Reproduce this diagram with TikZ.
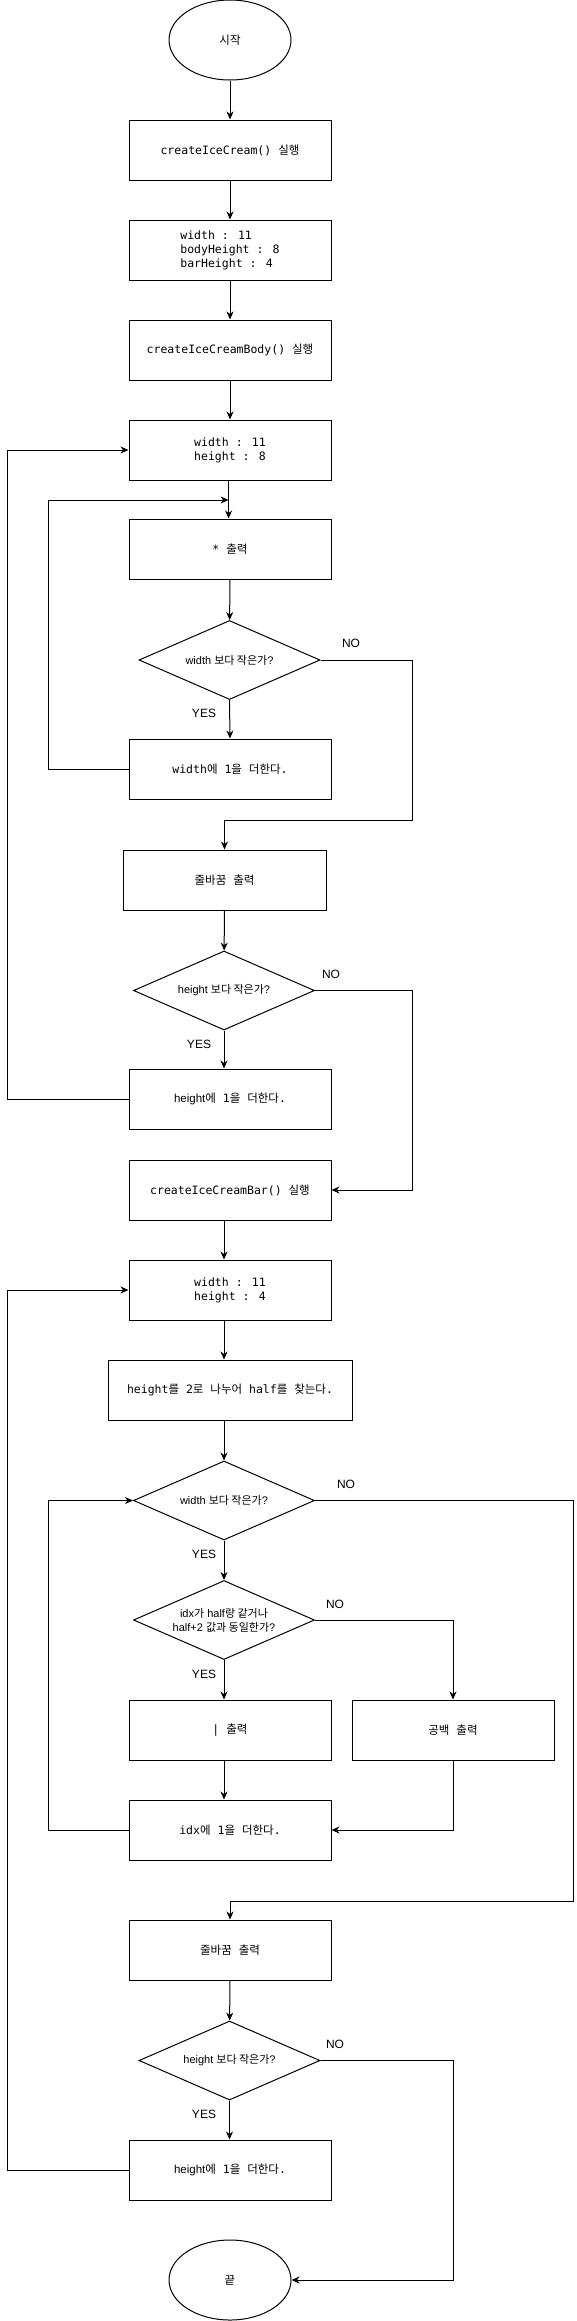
\documentclass[tikz,border=0pt]{standalone}
\usepackage{fontspec}
\setmainfont{Liberation Sans}
\newfontfamily\krfont{Noto Sans CJK KR}
\newfontfamily\monofont{DejaVu Sans Mono}
\newcommand\krtxt[1]{{\krfont #1}}
\usetikzlibrary{shapes.geometric,arrows.meta}
\begin{document}
\begin{tikzpicture}[x=1pt,y=-1pt,line width=1pt,
  stepbox/.style={draw,rectangle,minimum width=202pt,minimum height=60pt,inner sep=0pt,
    font=\monofont\fontsize{11.5}{14}\selectfont},
  term/.style={draw,ellipse,minimum width=122pt,minimum height=80pt,inner sep=0pt,
    font=\fontsize{11.5}{14}\selectfont},
  decide/.style={draw,diamond,aspect=2.3,minimum width=181pt,minimum height=79pt,inner sep=0pt,
    font=\fontsize{11}{14}\selectfont,align=center},
  lbl/.style={font=\fontsize{12}{14}\selectfont,inner sep=0pt},
  arr/.style={-{Stealth[length=8pt,width=7pt,inset=2.5pt]}}]
\useasboundingbox (0,0) rectangle (576,2321);

% nodes
\node[term] (start) at (230,40) {\krtxt{시작}};
\node[stepbox] (b1) at (230,150) {createIceCream() \krtxt{실행}};
\node[stepbox,align=left] (b2) at (230,250) {width : 11\\bodyHeight : 8\\barHeight : 4};
\node[stepbox] (b3) at (230,350) {createIceCreamBody() \krtxt{실행}};
\node[stepbox,align=center] (b4) at (230,450) {width : 11\\height : 8};
\node[stepbox] (b5) at (230,549) {* \krtxt{출력}};
\node[decide] (d1) at (229.5,660) {width \krtxt{보다 작은가}?};
\node[stepbox] (b6) at (230,769) {width\krtxt{에} 1\krtxt{을} \krtxt{더한다}.};
\node[stepbox,minimum width=203pt] (b7) at (224.5,880) {\krtxt{줄바꿈} \krtxt{출력}};
\node[decide] (d2) at (224,990.5) {height \krtxt{보다 작은가}?};
\node[stepbox] (b8) at (230,1099) {{\rmfamily height}\krtxt{에} 1\krtxt{을} \krtxt{더한다}.};
\node[stepbox] (b9) at (230,1190) {createIceCreamBar() \krtxt{실행}};
\node[stepbox,align=center] (b10) at (230,1290) {width : 11\\height : 4};
\node[stepbox,minimum width=244pt] (b11) at (230,1390) {height\krtxt{를} 2\krtxt{로} \krtxt{나누어} half\krtxt{를} \krtxt{찾는다}.};
\node[decide] (d3) at (224,1500.5) {width \krtxt{보다 작은가}?};
\node[decide] (d4) at (224,1620) {idx\krtxt{가} half\krtxt{랑 같거나}\\half+2 \krtxt{값과 동일한가}?};
\node[stepbox] (b12) at (230,1730) {| \krtxt{출력}};
\node[stepbox] (b13) at (453,1730) {\krtxt{공백} \krtxt{출력}};
\node[stepbox] (b14) at (230,1830) {idx\krtxt{에} 1\krtxt{을} \krtxt{더한다}.};
\node[stepbox] (b15) at (230,1950) {\krtxt{줄바꿈} \krtxt{출력}};
\node[decide] (d5) at (229.5,2060.5) {height \krtxt{보다 작은가}?};
\node[stepbox] (b16) at (230,2170) {{\rmfamily height}\krtxt{에} 1\krtxt{을} \krtxt{더한다}.};
\node[term] (end) at (230,2280) {\krtxt{끝}};

% labels
\node[lbl] (no1) at (351,643) {NO};
\node[lbl] (yes1) at (204,713) {YES};
\node[lbl] (no2) at (331,974) {NO};
\node[lbl] (yes2) at (199,1044) {YES};
\node[lbl] (no3) at (346,1484) {NO};
\node[lbl] (yes3) at (204,1554) {YES};
\node[lbl] (no4) at (335,1604) {NO};
\node[lbl] (yes4) at (204,1674) {YES};
\node[lbl] (no5) at (335,2044) {NO};
\node[lbl] (yes5) at (204,2114) {YES};

% helper coordinates
\coordinate (m1) at (228.6,500);
\coordinate (l1) at (48,769);
\coordinate (c1) at (412,820);
\coordinate (c2) at (412,1190);
\coordinate (o1) at (7,1099);
\coordinate (c3) at (573,1901);
\coordinate (l2) at (48,1830);
\coordinate (c4) at (453,2280);
\coordinate (o2) at (7,2170);

% connectors
\draw[arr] (start) -- (b1);
\draw[arr] (b1) -- (b2);
\draw[arr] (b2) -- (b3);
\draw[arr] (b3) -- (b4);
\draw[arr] (b4.south -| m1) -- (b5.north -| m1);
\draw[arr] (b6.west) -- (l1) |- (m1);
\draw[arr] (b5) -- (d1);
\draw[arr] (d1.south) -- (b6.north);
\draw[arr] (d1.east) -| (c1) -| (b7.north);
\draw[arr] (b7) -- (d2);
\draw[arr] (d2.south) -- (b8.north -| d2.south);
\draw[arr] (d2.east) -| (c2) -- (b9.east);
\draw[arr] (b8.west) -- (o1) |- (b4.west);
\draw[arr] (b9.south -| d3.north) -- (b10.north -| d3.north);
\draw[arr] (b10.south -| d3.north) -- (b11.north -| d3.north);
\draw[arr] (b11.south -| d3.north) -- (d3.north);
\draw[arr] (d3.south) -- (d4.north);
\draw[arr] (d3.east) -| (c3) -| (b15.north);
\draw[arr] (d4.south) -- (b12.north -| d4.south);
\draw[arr] (d4.east) -| (b13.north);
\draw[arr] (b12.south -| d4.south) -- (b14.north -| d4.south);
\draw[arr] (b13.south) |- (b14.east);
\draw[arr] (b14.west) -- (l2) |- (d3.west);
\draw[arr] (b15) -- (d5);
\draw[arr] (d5.south) -- (b16.north -| d5.south);
\draw[arr] (d5.east) -| (c4) -- (end.east);
\draw[arr] (b16.west) -- (o2) |- (b10.west);
\end{tikzpicture}
\end{document}
